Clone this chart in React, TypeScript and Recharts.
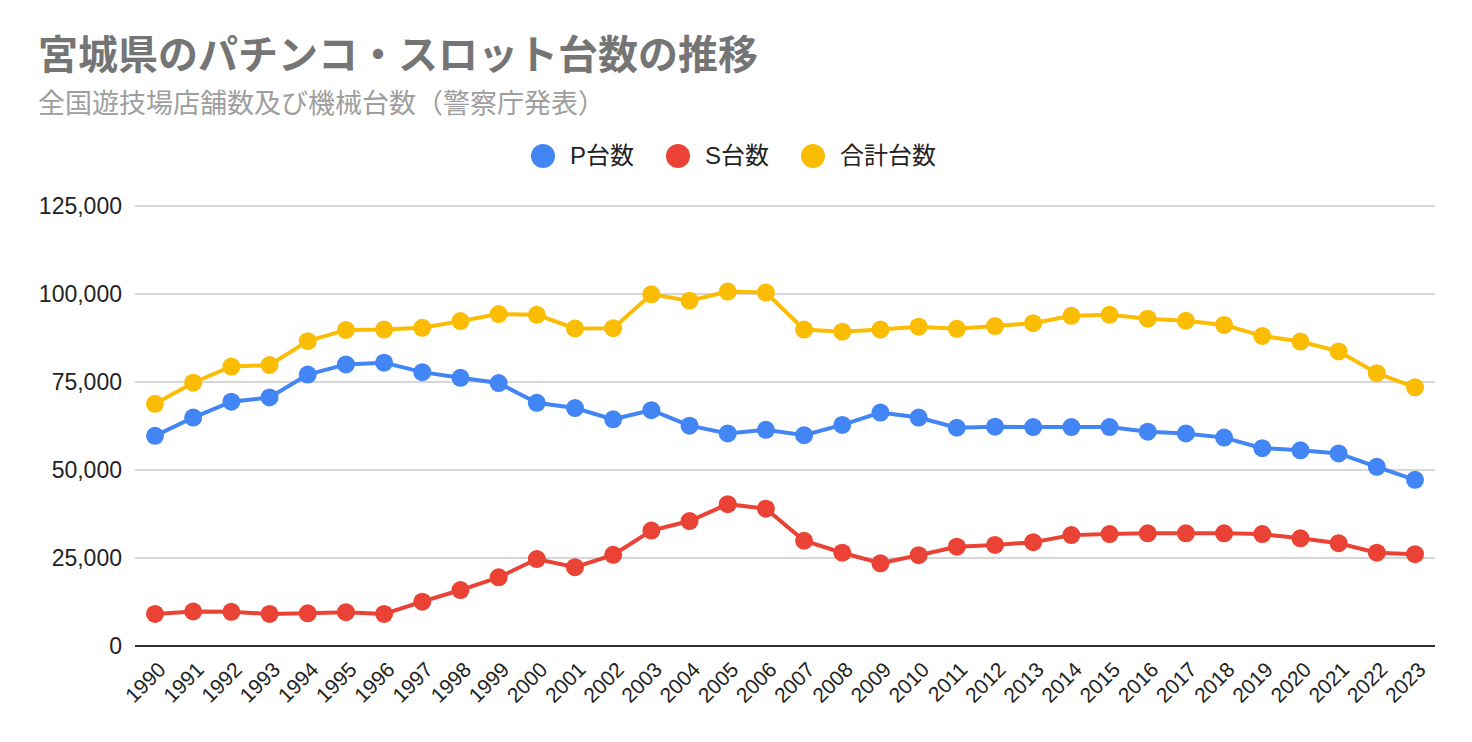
import { LineChart, Line, XAxis, YAxis, CartesianGrid } from 'recharts'

const years = [
  '1990', '1991', '1992', '1993', '1994', '1995', '1996', '1997', '1998', '1999',
  '2000', '2001', '2002', '2003', '2004', '2005', '2006', '2007', '2008', '2009',
  '2010', '2011', '2012', '2013', '2014', '2015', '2016', '2017', '2018', '2019',
  '2020', '2021', '2022', '2023',
]

const pachinko = [
  59700, 64900, 69400, 70600, 77100, 80000, 80500, 77800, 76200, 74700,
  69100, 67600, 64400, 67000, 62600, 60400, 61400, 59900, 62800, 66300,
  64900, 62000, 62300, 62200, 62200, 62200, 60900, 60400, 59200, 56200,
  55600, 54700, 50900, 47200,
]

const slot = [
  9100, 9800, 9700, 9100, 9300, 9600, 9100, 12600, 15900, 19500,
  24700, 22400, 25900, 32800, 35500, 40300, 39000, 29900, 26500, 23500,
  25800, 28200, 28700, 29500, 31500, 31800, 32000, 32000, 32000, 31800,
  30600, 29200, 26500, 26100,
]

const total = [
  68800, 74800, 79400, 79800, 86600, 89800, 89900, 90400, 92300, 94300,
  94100, 90200, 90300, 99900, 98100, 100700, 100400, 89900, 89300, 89900,
  90700, 90100, 90900, 91700, 93800, 94100, 93000, 92400, 91200, 88100,
  86500, 83700, 77500, 73500,
]

const yTicks = [0, 25000, 50000, 75000, 100000, 125000]

const seriesList = [
  { key: 'p', name: 'P台数', color: '#4285f4' },
  { key: 's', name: 'S台数', color: '#ea4335' },
  { key: 'total', name: '合計台数', color: '#fbbc04' },
]

const rows = years.map((y, i) => ({ year: y, p: pachinko[i], s: slot[i], total: total[i] }))

const FONT = '"Liberation Sans", Arial, "Noto Sans CJK JP", sans-serif'

function YearTick(props: any) {
  const { x, y, payload } = props
  const ax = x + 12
  const ay = y + 17
  return (
    <text
      x={ax}
      y={ay}
      transform={`rotate(-45, ${ax}, ${ay})`}
      textAnchor="end"
      fill="#222"
      fontSize={21}
      fontFamily={FONT}
    >
      {payload.value}
    </text>
  )
}

function LegendBox() {
  return (
    <div style={{ position: 'absolute', left: 531, top: 140, display: 'flex', fontFamily: FONT }}>
      {seriesList.map(s => (
        <div key={s.key} style={{ display: 'flex', alignItems: 'center', marginRight: 32, height: 32 }}>
          <span style={{ width: 24, height: 24, borderRadius: 12, background: s.color, display: 'inline-block', marginRight: 15 }} />
          <span style={{ fontSize: 24, color: '#222', lineHeight: '32px' }}>{s.name}</span>
        </div>
      ))}
    </div>
  )
}

export default function App() {
  return (
    <div style={{ position: 'absolute', left: 0, top: 0, width: 1472, height: 742, background: '#fff', overflow: 'hidden' }}>
      <div style={{ position: 'absolute', left: 38, top: 35, fontSize: 40, lineHeight: '40px', fontWeight: 'bold', color: '#757575', fontFamily: FONT, whiteSpace: 'nowrap' }}>
        宮城県のパチンコ・スロット台数の推移
      </div>
      <div style={{ position: 'absolute', left: 38, top: 91, fontSize: 27, lineHeight: '27px', color: '#9e9e9e', fontFamily: FONT, whiteSpace: 'nowrap' }}>
        全国遊技場店舗数及び機械台数（警察庁発表）
      </div>
      <LegendBox />
      <div style={{ position: 'absolute', left: 0, top: 0 }}>
        <LineChart width={1472} height={742} data={rows} margin={{ top: 206, right: 37, bottom: 0, left: 0 }}>
          <CartesianGrid vertical={false} stroke="#c8c8c8" strokeWidth={1.5} />
          <XAxis
            dataKey="year"
            height={96}
            padding={{ left: 20, right: 20 }}
            interval={0}
            tickLine={false}
            axisLine={{ stroke: '#333', strokeWidth: 2 }}
            tick={<YearTick />}
          />
          <YAxis
            width={135}
            domain={[0, 125000]}
            ticks={yTicks}
            axisLine={false}
            tickLine={false}
            tickMargin={7}
            tickFormatter={(v: number) => v.toLocaleString('en-US')}
            tick={{ fill: '#222', fontSize: 23, fontFamily: FONT }}
          />
          {seriesList.map(s => (
            <Line
              key={s.key}
              dataKey={s.key}
              name={s.name}
              stroke={s.color}
              strokeWidth={4}
              dot={{ r: 9, fill: s.color, stroke: s.color, strokeWidth: 0 }}
              activeDot={false}
              isAnimationActive={false}
            />
          ))}
        </LineChart>
      </div>
    </div>
  )
}
